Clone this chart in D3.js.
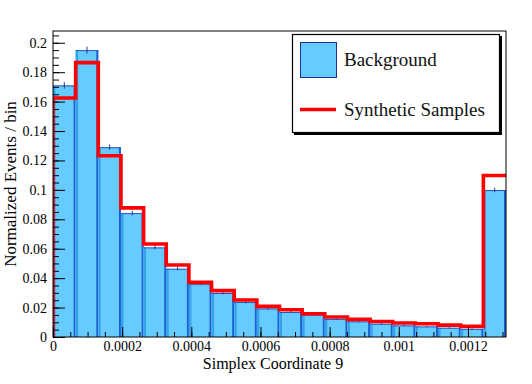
<!DOCTYPE html>
<html>
<head>
<meta charset="utf-8">
<script src="https://cdn.jsdelivr.net/npm/d3@7"></script>
<style>
  body { margin: 0; background: #fff; }
  svg { display: block; font-family: "Liberation Serif", "DejaVu Serif", serif; }
</style>
</head>
<body>
<svg></svg>
<script>
const width = 532;
const height = 384;

// histogram data (20 bins from 0 to xMax)
const xMax = 0.00131;
const background = [0.171, 0.195, 0.129, 0.0842, 0.0609, 0.0464, 0.0362, 0.0299, 0.0238, 0.0194,
  0.017, 0.0152, 0.0122, 0.0106, 0.009, 0.0079, 0.0072, 0.0063, 0.0055, 0.0999];
const backgroundErr = [0.0022, 0.0023, 0.0018, 0.0015, 0.0012, 0.0011, 0.001, 0.0009, 0.0008, 0.0007,
  0.0007, 0.0006, 0.0006, 0.0005, 0.0005, 0.0005, 0.0004, 0.0004, 0.0004, 0.0015];
const synthetic = [0.1625, 0.1865, 0.1232, 0.0878, 0.0632, 0.0489, 0.0371, 0.0315, 0.0251, 0.0208,
  0.0185, 0.0158, 0.0136, 0.012, 0.0105, 0.0095, 0.009, 0.0081, 0.0072, 0.1098];

const xTicks = [0, 0.0002, 0.0004, 0.0006, 0.0008, 0.001, 0.0012];
const xTickLabels = ["0", "0.0002", "0.0004", "0.0006", "0.0008", "0.001", "0.0012"];
const yTicks = [0, 0.02, 0.04, 0.06, 0.08, 0.1, 0.12, 0.14, 0.16, 0.18, 0.2];
const yTickLabels = ["0", "0.02", "0.04", "0.06", "0.08", "0.1", "0.12", "0.14", "0.16", "0.18", "0.2"];
const legendLabels = ["Background", "Synthetic Samples"];

const plot = { left: 53, right: 506, top: 31, bottom: 337 };
const serif = "'Liberation Serif', 'DejaVu Serif', serif";

const svg = d3.select("svg").attr("width", width).attr("height", height);

const xScale = d3.scaleLinear().domain([0, xMax]).range([plot.left, plot.right]);
const yScale = d3.scaleLinear().domain([0, 0.208]).range([plot.bottom, plot.top]);

const binW = xMax / background.length;
const bins = background.map((v, i) => ({ lo: i * binW, hi: (i + 1) * binW, v: v, e: backgroundErr[i], s: synthetic[i] }));

svg.append("defs").append("clipPath").attr("id", "plotclip")
  .append("rect")
  .attr("x", plot.left).attr("y", plot.top)
  .attr("width", plot.right - plot.left).attr("height", plot.bottom - plot.top);

const area = svg.append("g").attr("clip-path", "url(#plotclip)");

// blue bars
const bar = area.selectAll(".bar").data(bins).enter().append("g").attr("class", "bar");
bar.append("rect")
  .attr("x", (d) => xScale(d.lo))
  .attr("y", (d) => yScale(d.v))
  .attr("width", (d) => xScale(d.hi) - xScale(d.lo))
  .attr("height", (d) => yScale(0) - yScale(d.v))
  .attr("fill", "#66ccff");
bar.append("rect")
  .attr("x", (d) => xScale(d.lo))
  .attr("y", (d) => yScale(d.v))
  .attr("width", 2.5)
  .attr("height", (d) => yScale(0) - yScale(d.v))
  .attr("fill", "#36a3e8");
bar.append("rect")
  .attr("x", (d) => xScale(d.hi) - 2)
  .attr("y", (d) => yScale(d.v))
  .attr("width", 2)
  .attr("height", (d) => yScale(0) - yScale(d.v))
  .attr("fill", "#1c60d4");
bar.append("line")
  .attr("x1", (d) => xScale(d.lo)).attr("x2", (d) => xScale(d.hi))
  .attr("y1", (d) => yScale(d.v) + 0.5).attr("y2", (d) => yScale(d.v) + 0.5)
  .attr("stroke", "#2a55c0").attr("stroke-width", 1);
// error bars
bar.append("line")
  .attr("x1", (d) => xScale((d.lo + d.hi) / 2)).attr("x2", (d) => xScale((d.lo + d.hi) / 2))
  .attr("y1", (d) => yScale(d.v - d.e)).attr("y2", (d) => yScale(d.v + d.e))
  .attr("stroke", "#22338f").attr("stroke-width", 1);

// synthetic step line
const stepPts = [[0, 0]];
bins.forEach((d) => { stepPts.push([d.lo, d.s]); stepPts.push([d.hi, d.s]); });
const line = d3.line().x((p) => xScale(p[0])).y((p) => yScale(p[1]));
area.append("path")
  .attr("d", line(stepPts))
  .attr("fill", "none")
  .attr("stroke", "#ff0000")
  .attr("stroke-width", 3.6)
  .attr("stroke-linejoin", "miter");

// axes (ticks inside, ROOT style)
const xAxis = d3.axisBottom(xScale).tickValues(xTicks).tickSize(-10).tickPadding(4)
  .tickFormat((d, i) => xTickLabels[i]);
const xMinor = d3.axisBottom(xScale).tickValues(d3.range(0, 27).map((k) => k * 0.00005)).tickSize(-5).tickFormat("");
const yAxis = d3.axisLeft(yScale).tickValues(yTicks).tickSize(-12).tickPadding(6)
  .tickFormat((d, i) => yTickLabels[i]);
const yMinor = d3.axisLeft(yScale).tickValues(d3.range(0, 42).map((k) => k * 0.005)).tickSize(-6).tickFormat("");

const styleAxis = (g) => {
  g.attr("font-family", serif).attr("font-size", 14);
  g.select(".domain").remove();
  g.selectAll("line").attr("stroke", "#000");
  g.selectAll("text").attr("fill", "#000")
    .style("font-family", serif).style("font-size", "14px");
};

svg.append("g").attr("transform", "translate(0," + plot.bottom + ")").call(xMinor).call(styleAxis);
svg.append("g").attr("transform", "translate(0," + plot.bottom + ")").call(xAxis).call(styleAxis);
svg.append("g").attr("transform", "translate(" + plot.left + ",0)").call(yMinor).call(styleAxis);
svg.append("g").attr("transform", "translate(" + plot.left + ",0)").call(yAxis).call(styleAxis);

// frame
svg.append("rect")
  .attr("x", plot.left).attr("y", plot.top)
  .attr("width", plot.right - plot.left).attr("height", plot.bottom - plot.top)
  .attr("fill", "none").attr("stroke", "#000").attr("stroke-width", 1);

// axis titles
svg.append("text")
  .attr("x", 273).attr("y", 369)
  .attr("text-anchor", "middle")
  .style("font-family", serif)
  .style("font-size", "16px")
  .text("Simplex Coordinate 9");
svg.append("text")
  .attr("transform", "translate(16," + ((plot.top + plot.bottom) / 2) + ") rotate(-90)")
  .attr("text-anchor", "middle")
  .style("font-family", serif)
  .style("font-size", "17px")
  .text("Normalized Events / bin");

// legend
const legend = svg.append("g");
legend.append("rect").attr("x", 294).attr("y", 36).attr("width", 208).attr("height", 99).attr("fill", "#000");
legend.append("rect").attr("x", 292.5).attr("y", 34.5).attr("width", 207).attr("height", 98)
  .attr("fill", "#fff").attr("stroke", "#000").attr("stroke-width", 1.2);
legend.append("rect").attr("x", 300.5).attr("y", 42.5).attr("width", 36).attr("height", 35)
  .attr("fill", "#66ccff").attr("stroke", "#1f2f9a").attr("stroke-width", 1);
legend.append("line").attr("x1", 300).attr("x2", 336).attr("y1", 109.5).attr("y2", 109.5)
  .attr("stroke", "#ff0000").attr("stroke-width", 3.6);
legend.selectAll(".lab").data(legendLabels).enter().append("text")
  .attr("x", 344)
  .attr("y", (d, i) => (i === 0 ? 65.5 : 115.5))
  .style("font-family", serif)
  .style("font-size", "19px")
  .attr("fill", "#111")
  .text((d) => d);
</script>
</body>
</html>
